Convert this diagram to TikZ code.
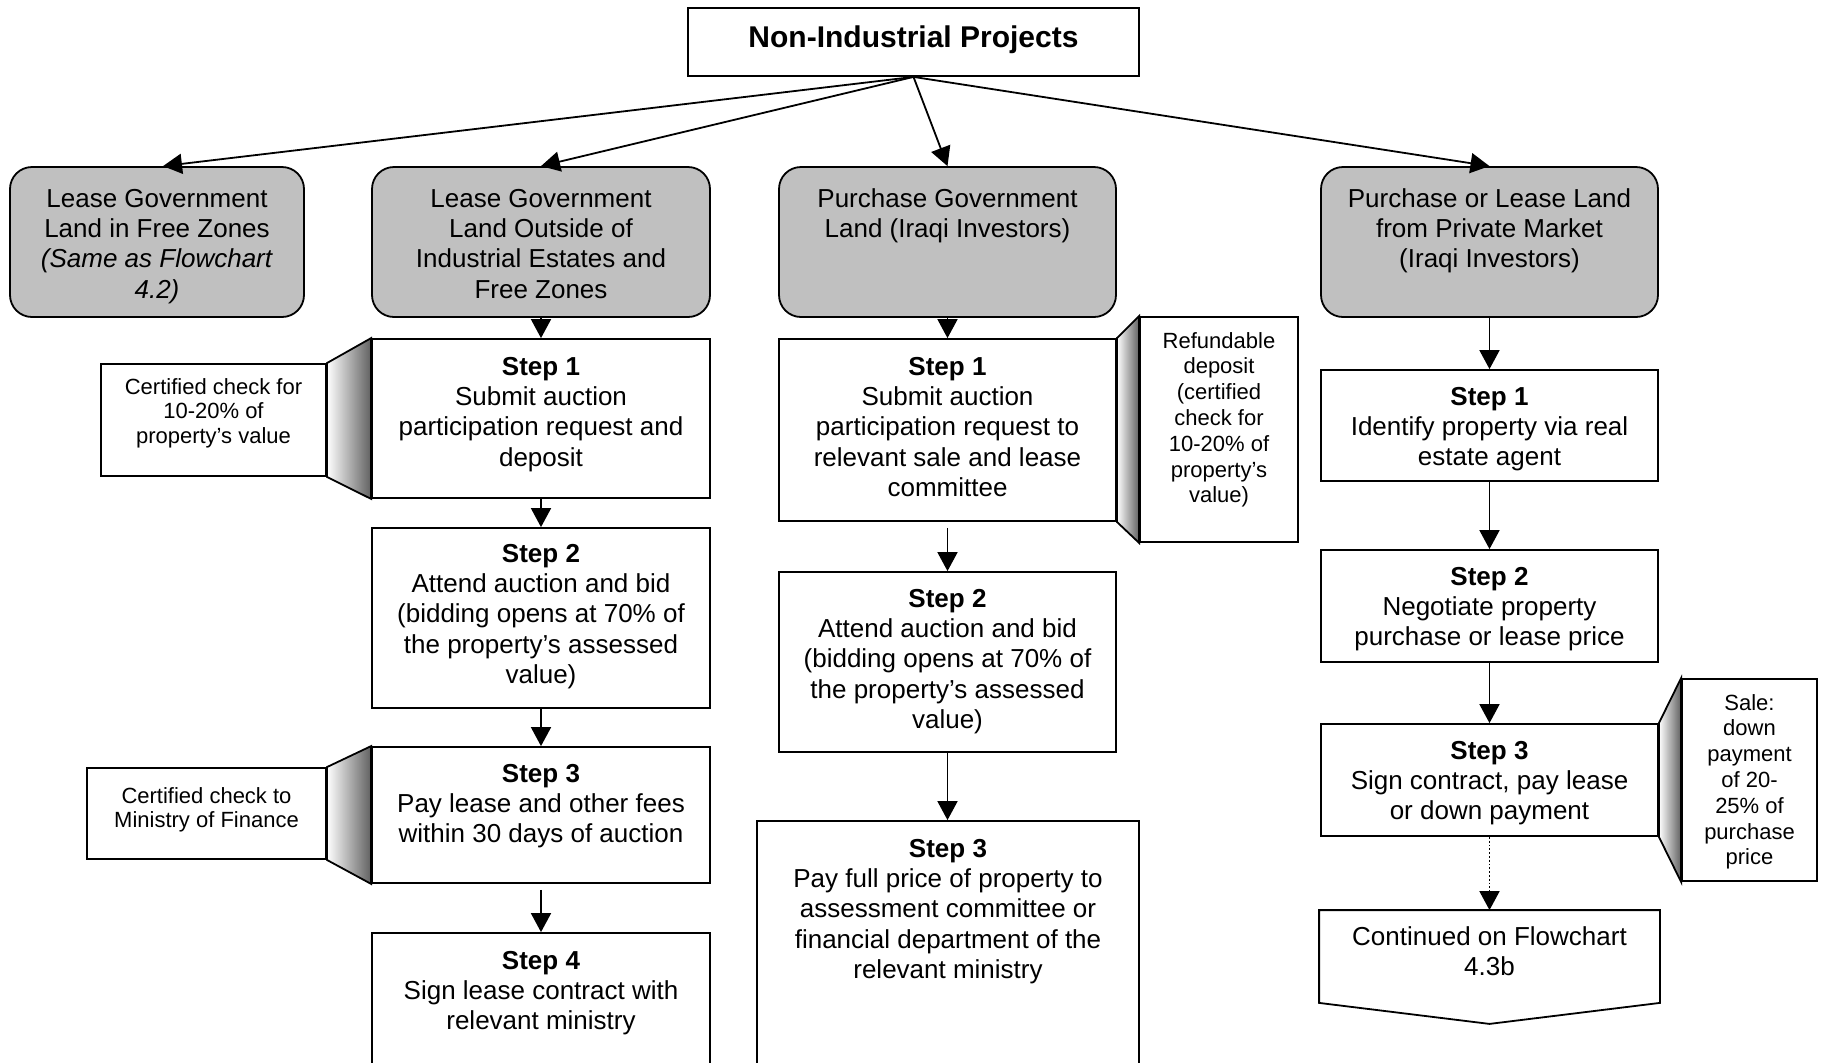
\documentclass[tikz,border=0pt]{standalone}
\usepackage{fontspec}
\setmainfont{Liberation Sans}
\usetikzlibrary{arrows.meta,calc}

\definecolor{catgray}{RGB}{192,192,192}

% Box with top-aligned centred text: style, name, left, right, top, bottom,
% first-baseline offset (all in px), text
\newcommand{\flowbox}[8]{%
  \node[#1] (#2) at ({(#3+#4)/2},{(#5+#6)/2})
    {\parbox[c][\dimexpr(#6pt-#5pt)/2\relax][t]{\dimexpr(#4pt-#3pt)/2\relax}%
      {\centering\rule{0pt}{\dimexpr#7pt/2\relax}#8\par}};}

\tikzset{
  boxbase/.style={draw, line width=0.9pt, inner sep=0pt, fill=white,
                  font=\fontsize{13pt}{15.2pt}\selectfont},
  titlebox/.style={boxbase, font=\fontsize{15pt}{17pt}\selectfont\bfseries},
  catbox/.style={boxbase, fill=catgray, rounded corners=11pt},
  stepbox/.style={boxbase},
  notebox/.style={boxbase, font=\fontsize{11pt}{12.4pt}\selectfont},
  tallnote/.style={boxbase, font=\fontsize{11pt}{12.9pt}\selectfont},
  link/.style={line width=0.9pt, -{Triangle[length=9.5pt,width=10pt]}},
  wedge/.style={line width=0.9pt, left color=white, right color=black!62},
}

\begin{document}
\begin{tikzpicture}[x=0.5pt, y=-0.5pt]
\useasboundingbox (0,0) rectangle (1828,1062);
\fill[white] (0,0) rectangle (1828,1062);
\begin{scope}
\clip (0,0) rectangle (1828,1062);

% Title
\flowbox{titlebox}{title}{688}{1139}{8}{76}{39}{Non-Industrial Projects}

% Categories
\flowbox{catbox}{catA}{10}{304}{167}{317}{40}{Lease Government\\Land in Free Zones\\\textit{(Same as Flowchart}\\\textit{4.2)}}
\flowbox{catbox}{catB}{372}{710}{167}{317}{40}{Lease Government\\Land Outside of\\Industrial Estates and\\Free Zones}
\flowbox{catbox}{catC}{779}{1116}{167}{317}{40}{Purchase Government\\Land (Iraqi Investors)}
\flowbox{catbox}{catD}{1321}{1658}{167}{317}{40}{Purchase or Lease Land\\from Private Market\\(Iraqi Investors)}

% Lease outside estates and zones
\flowbox{stepbox}{B1}{372}{710}{339}{498}{36}{\textbf{Step 1}\\Submit auction\\participation request and\\deposit}
\flowbox{stepbox}{B2}{372}{710}{528}{708}{34}{\textbf{Step 2}\\Attend auction and bid\\(bidding opens at 70\% of\\the property’s assessed\\value)}
\flowbox{stepbox}{B3}{372}{710}{747}{883}{35}{\textbf{Step 3}\\Pay lease and other fees\\within 30 days of auction}
\flowbox{stepbox}{B4}{372}{710}{933}{1090}{36}{\textbf{Step 4}\\Sign lease contract with\\relevant ministry}

% Purchase government land
\flowbox{stepbox}{C1}{779}{1116}{339}{521}{36}{\textbf{Step 1}\\Submit auction\\participation request to\\relevant sale and lease\\committee}
\flowbox{stepbox}{C2}{779}{1116}{572}{752}{35}{\textbf{Step 2}\\Attend auction and bid\\(bidding opens at 70\% of\\the property’s assessed\\value)}
\flowbox{stepbox}{C3}{757}{1139}{821}{1090}{36}{\textbf{Step 3}\\Pay full price of property to\\assessment committee or\\financial department of the\\relevant ministry}

% Private market
\flowbox{stepbox}{D1}{1321}{1658}{370}{481}{35}{\textbf{Step 1}\\Identify property via real\\estate agent}
\flowbox{stepbox}{D2}{1321}{1658}{550}{662}{35}{\textbf{Step 2}\\Negotiate property\\purchase or lease price}
\flowbox{stepbox}{D3}{1321}{1658}{724}{836}{35}{\textbf{Step 3}\\Sign contract, pay lease\\or down payment}
\flowbox{stepbox, draw=none, fill=none}{cont}{1320}{1659}{911}{1002}{34}{Continued on Flowchart\\4.3b}
\draw[line width=0.9pt] (cont.north west) -- (cont.north east) -- (cont.south east)
  -- ($(cont.south)+(0,21)$) -- (cont.south west) -- cycle;

% Side notes
\flowbox{notebox}{L1}{101}{326}{364}{476}{30}{Certified check for\\10-20\% of\\property’s value}
\flowbox{notebox}{L2}{87}{326}{768}{859}{35}{Certified check to\\Ministry of Finance}
\flowbox{tallnote}{R1}{1140}{1298}{317}{542}{31}{Refundable\\deposit\\(certified\\check for\\10-20\% of\\property’s\\value)}
\flowbox{tallnote}{R2}{1682}{1817}{679}{881}{31}{Sale:\\down\\payment\\of 20-\\25\% of\\purchase\\price}

% Shaded wedges joining notes to steps
\draw[wedge] (L1.north east) -- (L1.south east) -- (B1.south west) -- (B1.north west) -- cycle;
\draw[wedge] (L2.north east) -- (L2.south east) -- (B3.south west) -- (B3.north west) -- cycle;
\draw[wedge] (C1.north east) -- (C1.south east) -- (R1.south west) -- (R1.north west) -- cycle;
\draw[wedge] (D3.north east) -- (D3.south east) -- (R2.south west) -- (R2.north west) -- cycle;

% Connectors from the title
\draw[link] (title.south) -- ($(catA.north)+(6,0)$);
\draw[link] (title.south) -- (catB.north);
\draw[link] (title.south) -- (catC.north);
\draw[link] (title.south) -- (catD.north);

% Step connectors
\draw[link] (catB.south) -- (B1.north);
\draw[link] (B1.south) -- (B2.north);
\draw[link] (B2.south) -- (B3.north);
\draw[link, shorten <=3pt] (B3.south) -- (B4.north);

\draw[link] (catC.south) -- (C1.north);
\draw[link, shorten <=3pt] (C1.south) -- (C2.north);
\draw[link] (C2.south) -- (C2.south |- C3.north);

\draw[link] (catD.south) -- (D1.north);
\draw[link] (D1.south) -- (D2.north);
\draw[link] (D2.south) -- (D3.north);
\draw[link, densely dotted] (D3.south) -- (cont.north);
\end{scope}
\end{tikzpicture}
\end{document}
